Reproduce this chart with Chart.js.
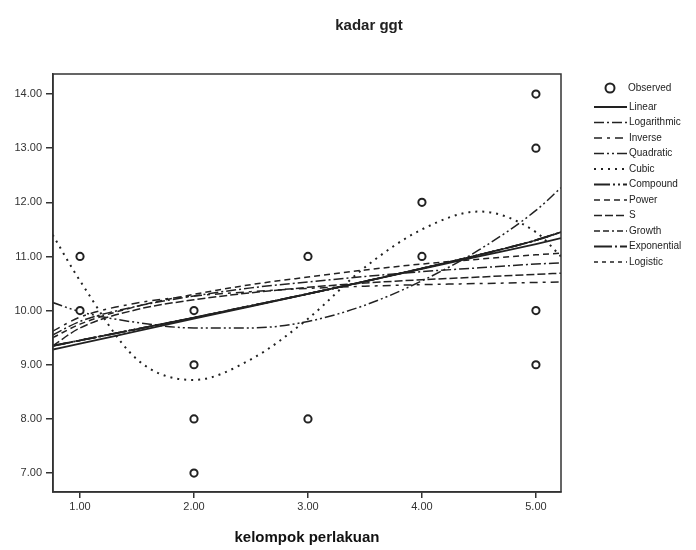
<!DOCTYPE html>
<html>
<head>
<meta charset="utf-8">
<script src="https://cdn.jsdelivr.net/npm/chart.js@4.4.0/dist/chart.umd.min.js"></script>
<style>
  html, body { margin: 0; padding: 0; background: #fff; }
  #wrap { width: 696px; height: 550px; }
</style>
</head>
<body>
<div id="wrap"><canvas id="ggtChart" width="696" height="550"></canvas></div>
<script>
// observed values
const obsX = [1, 1, 2, 2, 2, 2, 3, 3, 4, 4, 5, 5, 5, 5];
const obsY = [11, 10, 10, 9, 8, 7, 11, 8, 12, 11, 14, 13, 10, 9];

const fitX = [0.76, 1, 1.5, 2, 2.5, 3, 3.5, 4, 4.5, 5, 5.22];
const linearY      = [9.28, 9.39, 9.62, 9.85, 10.08, 10.31, 10.54, 10.77, 11.0, 11.23, 11.34];
const logarithmicY = [9.55, 9.8, 10.08, 10.27, 10.42, 10.53, 10.63, 10.72, 10.79, 10.86, 10.88];
const inverseY     = [9.62, 9.88, 10.14, 10.27, 10.35, 10.41, 10.45, 10.48, 10.5, 10.52, 10.53];
const quadraticY   = [10.15, 9.98, 9.78, 9.68, 9.68, 9.8, 10.1, 10.55, 11.12, 11.85, 12.27];
const cubicY       = [11.4, 10.55, 9.1, 8.72, 9.1, 9.85, 10.8, 11.5, 11.83, 11.45, 11.0];
const compoundY    = [9.35, 9.45, 9.66, 9.87, 10.09, 10.31, 10.54, 10.78, 11.03, 11.3, 11.45];
const powerY       = [9.5, 9.75, 10.08, 10.3, 10.48, 10.62, 10.75, 10.86, 10.95, 11.03, 11.06];
const sY           = [9.35, 9.68, 10.02, 10.2, 10.33, 10.43, 10.51, 10.57, 10.62, 10.67, 10.69];
// growth, exponential and logistic give the same curve as compound
const growthY      = compoundY;
const exponentialY = compoundY;
const logisticY    = compoundY;

const xTicks = [1, 2, 3, 4, 5];
const yTicks = [7, 8, 9, 10, 11, 12, 13, 14];

const ink = '#222';

function pts(xs, ys) {
  return xs.map((x, i) => ({ x: x, y: ys[i] }));
}

function fitLine(label, ys, dash, width) {
  return {
    label: label,
    data: pts(fitX, ys),
    showLine: true,
    borderColor: ink,
    backgroundColor: ink,
    borderWidth: width || 1.5,
    borderDash: dash,
    pointRadius: 0,
    pointHoverRadius: 0,
    cubicInterpolationMode: 'monotone'
  };
}

const datasets = [
  {
    label: 'Observed',
    data: pts(obsX, obsY),
    pointStyle: 'circle',
    pointRadius: 3.6,
    borderWidth: 2,
    borderColor: ink,
    backgroundColor: '#fff'
  },
  fitLine('Linear', linearY, [], 1.8),
  fitLine('Logarithmic', logarithmicY, [10, 3, 2, 3]),
  fitLine('Inverse', inverseY, [8, 5, 3, 5]),
  fitLine('Quadratic', quadraticY, [10, 3, 2, 3, 2, 3]),
  fitLine('Cubic', cubicY, [2, 5], 2),
  fitLine('Compound', compoundY, [16, 3, 2, 3, 2, 3], 1.8),
  fitLine('Power', powerY, [6, 4]),
  fitLine('S', sY, [8, 3]),
  fitLine('Growth', growthY, [6, 3, 6, 3, 2, 3]),
  fitLine('Exponential', exponentialY, [18, 3, 2, 3], 1.8),
  fitLine('Logistic', logisticY, [4, 4])
];

// frame, title and SPSS-like legend
const decorPlugin = {
  id: 'decor',
  afterDraw(chart) {
    const ctx = chart.ctx;
    const a = chart.chartArea;
    ctx.save();
    ctx.strokeStyle = '#333';
    ctx.lineWidth = 1.5;
    ctx.setLineDash([]);
    ctx.strokeRect(a.left, a.top, a.right - a.left, a.bottom - a.top);

    ctx.fillStyle = '#222';
    ctx.font = 'bold 15px "Liberation Sans", Arial, sans-serif';
    ctx.textAlign = 'center';
    ctx.textBaseline = 'middle';
    ctx.fillText('kadar ggt', 369, 26);

    ctx.font = '10px "Liberation Sans", Arial, sans-serif';
    ctx.textAlign = 'left';
    chart.data.datasets.forEach((ds, i) => {
      const y = i === 0 ? 88 : 107 + (i - 1) * 15.5;
      if (i === 0) {
        ctx.beginPath();
        ctx.lineWidth = 2;
        ctx.strokeStyle = ink;
        ctx.arc(610, y, 4.5, 0, Math.PI * 2);
        ctx.stroke();
        ctx.fillText(ds.label, 628, y);
      } else {
        ctx.beginPath();
        ctx.lineWidth = ds.borderWidth;
        ctx.strokeStyle = ink;
        ctx.setLineDash(ds.borderDash);
        ctx.moveTo(594, y);
        ctx.lineTo(627, y);
        ctx.stroke();
        ctx.setLineDash([]);
        ctx.fillText(ds.label, 629, y);
      }
    });
    ctx.restore();
  }
};

const ctx = document.getElementById('ggtChart').getContext('2d');
const ggtChart = new Chart(ctx, {
  type: 'scatter',
  data: { datasets: datasets },
  plugins: [decorPlugin],
  options: {
    responsive: false,
    animation: false,
    devicePixelRatio: 1,
    layout: { padding: { left: 0, right: 135, top: 74, bottom: 3 } },
    plugins: {
      legend: { display: false },
      tooltip: { enabled: false },
      title: { display: false }
    },
    scales: {
      x: {
        type: 'linear',
        min: 0.763,
        max: 5.22,
        afterBuildTicks: (scale) => { scale.ticks = xTicks.map(v => ({ value: v })); },
        afterFit: (scale) => { scale.height = 55; },
        grid: { drawOnChartArea: false, drawTicks: true, tickLength: 6, color: '#333', lineWidth: 1.5 },
        border: { display: true, color: '#333', width: 1.5 },
        ticks: {
          color: '#333',
          padding: 2,
          font: { family: '"Liberation Sans", Arial, sans-serif', size: 11 },
          callback: (v) => v.toFixed(2)
        },
        title: {
          display: true,
          text: 'kelompok perlakuan',
          color: '#111',
          padding: { top: 0, bottom: 0 },
          font: { family: '"Liberation Sans", Arial, sans-serif', size: 15, weight: 'bold' }
        }
      },
      y: {
        min: 6.65,
        max: 14.37,
        afterBuildTicks: (scale) => { scale.ticks = yTicks.map(v => ({ value: v })); },
        afterFit: (scale) => { scale.width = 53; },
        grid: { drawOnChartArea: false, drawTicks: true, tickLength: 7, color: '#333', lineWidth: 1.5 },
        border: { display: true, color: '#333', width: 1.5 },
        ticks: {
          color: '#333',
          padding: 4,
          font: { family: '"Liberation Sans", Arial, sans-serif', size: 11 },
          callback: (v) => v.toFixed(2)
        }
      }
    }
  }
});
</script>
</body>
</html>
